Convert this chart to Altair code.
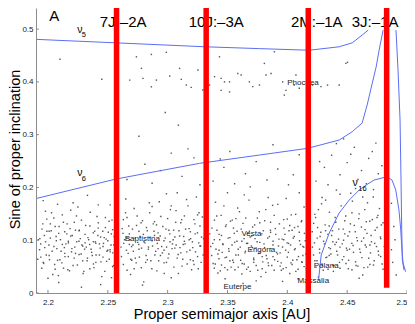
import altair as alt
import pandas as pd

FONT = "Liberation Sans"

# ---------------- axis ticks ----------------
x_ticks = [2.2, 2.25, 2.3, 2.35, 2.4, 2.45, 2.5]
y_ticks = [0.0, 0.1, 0.2, 0.3, 0.4, 0.5]

# ---------------- secular resonance curves ----------------
nu5_a = [2.1908, 2.2567, 2.3317, 2.3767, 2.4183, 2.4433, 2.4542, 2.4625, 2.4675]
nu5_s = [0.4805, 0.4740, 0.4665, 0.4630, 0.4600, 0.4665, 0.4740, 0.4886, 0.4980]

nu6_a = [2.1908, 2.2567, 2.3267, 2.3767, 2.4167, 2.4433, 2.4542, 2.4625, 2.4667, 2.4700, 2.4742, 2.4767, 2.4800]
nu6_s = [0.1794, 0.2159, 0.2457, 0.2614, 0.2740, 0.2898, 0.3055, 0.3220, 0.3561, 0.3883, 0.4280, 0.4600, 0.4980]

nu6b_a = [2.4908, 2.4925, 2.4942, 2.4950, 2.4956, 2.4961, 2.4975]
nu6b_s = [0.4980, 0.4224, 0.3277, 0.2140, 0.1193, 0.0625, 0.0436]

nu16_a = [2.4261, 2.4283, 2.4350, 2.4433, 2.4517, 2.4600, 2.4658, 2.4725, 2.4833,
          2.4875, 2.4906, 2.4933, 2.4948, 2.4956, 2.4967, 2.4989]
nu16_s = [0.0246, 0.0720, 0.1136, 0.1515, 0.1761, 0.1950, 0.2045, 0.2140, 0.2203,
          0.2140, 0.1950, 0.1570, 0.1193, 0.0877, 0.0568, 0.0403]

# ---------------- mean-motion resonances ----------------
res_a = [2.2573, 2.3322, 2.4175, 2.4830]
res_bottom = [0.0, 0.0, 0.0, 0.010]
res_labels = ["7J:\u20132A", "10J:\u20133A", "2M:\u20131A", "3J:\u20131A"]
res_label_a = [2.2628, 2.3406, 2.4246, 2.4733]
res_label_s = [0.504, 0.504, 0.504, 0.504]

# ---------------- asteroid names ----------------
ast_names = ["Baptistina", "Vesta", "Erigona", "Euterpe", "Massalia", "Polana", "Phocaea"]
ast_a = [2.2788, 2.3700, 2.3783, 2.3583, 2.4217, 2.4325, 2.4131]
ast_s = [0.1018, 0.1117, 0.0814, 0.0114, 0.0233, 0.0511, 0.3972]

# ---------------- nu labels ----------------
nu_a = [2.2267, 2.2267, 2.4567]
nu_s = [0.4980, 0.2282, 0.2083]
sub_text = ["5", "6", "16"]
sub_a = [2.2300, 2.2300, 2.4628]
sub_s = [0.4896, 0.2169, 0.1970]

# ---------------- asteroids (proper elements) ----------------
ast1_a = [2.193, 2.195, 2.196, 2.198, 2.199, 2.201, 2.202, 2.204, 2.205, 2.206, 2.208, 2.209, 2.211, 2.212, 2.213,
          2.215, 2.216, 2.217, 2.219, 2.220, 2.221, 2.223, 2.224, 2.225, 2.226, 2.228, 2.229, 2.230, 2.231, 2.233,
          2.234, 2.235, 2.236, 2.238, 2.239, 2.240, 2.241, 2.243, 2.244, 2.245, 2.246, 2.248, 2.249, 2.250, 2.251,
          2.252, 2.253, 2.254, 2.255, 2.197, 2.200, 2.203, 2.207, 2.210, 2.214, 2.218, 2.222, 2.227, 2.232, 2.237,
          2.242, 2.247, 2.252, 2.194, 2.212, 2.226, 2.238, 2.246, 2.221, 2.233, 2.209, 2.244, 2.256, 2.201, 2.217,
          2.229, 2.243, 2.250, 2.214, 2.235, 2.206, 2.223, 2.248, 2.202, 2.240, 2.231, 2.254, 2.219, 2.192, 2.228,
          2.196, 2.242, 2.208, 2.210, 2.245]
ast1_s = [0.082, 0.121, 0.058, 0.097, 0.140, 0.071, 0.104, 0.035, 0.088, 0.126, 0.062, 0.113, 0.079, 0.148, 0.047,
          0.093, 0.131, 0.069, 0.108, 0.084, 0.052, 0.119, 0.097, 0.163, 0.073, 0.138, 0.089, 0.041, 0.111, 0.066,
          0.101, 0.127, 0.083, 0.055, 0.117, 0.094, 0.145, 0.072, 0.106, 0.031, 0.088, 0.124, 0.060, 0.099, 0.136,
          0.078, 0.112, 0.050, 0.091, 0.109, 0.028, 0.152, 0.099, 0.063, 0.116, 0.042, 0.134, 0.103, 0.087, 0.071,
          0.123, 0.105, 0.167, 0.068, 0.092, 0.118, 0.097, 0.068, 0.171, 0.185, 0.020, 0.016, 0.075, 0.117, 0.098,
          0.061, 0.093, 0.081, 0.075, 0.046, 0.045, 0.075, 0.143, 0.131, 0.058, 0.095, 0.120, 0.157, 0.101, 0.011,
          0.175, 0.167, 0.168, 0.443, 0.405]

ast2_a = [2.261, 2.262, 2.263, 2.264, 2.266, 2.267, 2.268, 2.269, 2.271, 2.272, 2.273, 2.274, 2.276, 2.277, 2.278,
          2.279, 2.281, 2.282, 2.283, 2.285, 2.286, 2.287, 2.288, 2.290, 2.291, 2.292, 2.293, 2.295, 2.296, 2.297,
          2.298, 2.300, 2.301, 2.302, 2.303, 2.305, 2.306, 2.307, 2.308, 2.310, 2.311, 2.312, 2.313, 2.315, 2.316,
          2.317, 2.318, 2.320, 2.321, 2.322, 2.323, 2.325, 2.326, 2.327, 2.328, 2.330, 2.331, 2.265, 2.270, 2.275,
          2.280, 2.284, 2.289, 2.294, 2.299, 2.304, 2.309, 2.314, 2.319, 2.324, 2.329, 2.263, 2.276, 2.283, 2.292,
          2.301, 2.311, 2.319, 2.327, 2.268, 2.287, 2.306, 2.322, 2.272, 2.297, 2.314, 2.279, 2.303, 2.289, 2.266,
          2.299, 2.325, 2.308]
ast2_s = [0.087, 0.122, 0.054, 0.101, 0.143, 0.075, 0.112, 0.035, 0.091, 0.160, 0.066, 0.128, 0.083, 0.107, 0.048,
          0.137, 0.095, 0.071, 0.118, 0.152, 0.061, 0.099, 0.131, 0.079, 0.042, 0.114, 0.173, 0.088, 0.126, 0.057,
          0.104, 0.141, 0.074, 0.097, 0.029, 0.119, 0.085, 0.156, 0.066, 0.108, 0.133, 0.051, 0.092, 0.121, 0.078,
          0.165, 0.101, 0.044, 0.086, 0.139, 0.112, 0.069, 0.095, 0.127, 0.058, 0.103, 0.081, 0.178, 0.062, 0.096,
          0.021, 0.087, 0.109, 0.071, 0.188, 0.093, 0.037, 0.146, 0.116, 0.182, 0.144, 0.139, 0.117, 0.063, 0.084,
          0.119, 0.076, 0.063, 0.089, 0.092, 0.164, 0.106, 0.054, 0.046, 0.081, 0.098, 0.015, 0.165, 0.135, 0.105,
          0.058, 0.148, 0.190]

ast2h_a = [2.266, 2.281, 2.294, 2.303, 2.312, 2.322, 2.276, 2.309, 2.327, 2.287, 2.317, 2.298,
           2.2864, 2.2739, 2.2989, 2.2781, 2.3100, 2.3253, 2.2683, 2.2794, 2.2906, 2.3017, 2.3114,
           2.3156, 2.2864, 2.3197, 2.3294]
ast2h_s = [0.215, 0.244, 0.232, 0.265, 0.221, 0.256, 0.297, 0.318, 0.205, 0.208, 0.273, 0.342,
           0.452, 0.4475, 0.456, 0.4256, 0.4256, 0.4224, 0.4034, 0.4066, 0.4034, 0.411, 0.4047,
           0.394, 0.3907, 0.3896, 0.3845]

phoc_a = [2.3350, 2.3392, 2.3447, 2.3475, 2.3517, 2.3586, 2.3614, 2.3683, 2.3711, 2.3767, 2.3822, 2.3864,
          2.3961, 2.3975, 2.4072, 2.4058, 2.4100, 2.4211, 2.4281, 2.4336, 2.4433, 2.4489, 2.3808, 2.3447,
          2.3517, 2.3989, 2.4503, 2.3892, 2.3433]
phoc_s = [0.394, 0.410, 0.4066, 0.400, 0.400, 0.416, 0.413, 0.400, 0.391, 0.394, 0.413, 0.416,
          0.400, 0.375, 0.413, 0.394, 0.388, 0.394, 0.391, 0.394, 0.394, 0.435, 0.435, 0.384,
          0.381, 0.384, 0.437, 0.457, 0.4475]

ast3_a = [2.336, 2.337, 2.338, 2.339, 2.341, 2.342, 2.343, 2.344, 2.346, 2.347, 2.348, 2.349, 2.351, 2.352, 2.353,
          2.354, 2.356, 2.357, 2.358, 2.360, 2.361, 2.362, 2.363, 2.365, 2.366, 2.367, 2.368, 2.370, 2.371, 2.372,
          2.373, 2.375, 2.376, 2.377, 2.378, 2.380, 2.381, 2.382, 2.383, 2.385, 2.386, 2.387, 2.388, 2.390, 2.391,
          2.392, 2.393, 2.395, 2.396, 2.397, 2.398, 2.400, 2.401, 2.402, 2.403, 2.405, 2.406, 2.407, 2.408, 2.410,
          2.411, 2.412, 2.413, 2.415, 2.416, 2.417,
          2.339, 2.345, 2.350, 2.355, 2.359, 2.364, 2.369, 2.374, 2.379, 2.384, 2.389, 2.394, 2.399, 2.404, 2.409,
          2.414, 2.342, 2.352, 2.362, 2.372, 2.382, 2.392, 2.402, 2.412,
          2.340, 2.350, 2.359, 2.364, 2.369, 2.374, 2.379, 2.384, 2.389, 2.394, 2.399, 2.404, 2.409, 2.414, 2.345,
          2.355, 2.366, 2.377, 2.388, 2.397, 2.406, 2.343, 2.357, 2.371, 2.386, 2.400, 2.413, 2.348, 2.363, 2.396,
          2.410,
          2.338, 2.347, 2.356, 2.365, 2.374, 2.383, 2.392, 2.401, 2.410, 2.352, 2.388, 2.369, 2.344, 2.405]
ast3_s = [0.088, 0.123, 0.056, 0.101, 0.146, 0.074, 0.111, 0.042, 0.093, 0.165, 0.067, 0.129, 0.084, 0.105, 0.049,
          0.138, 0.096, 0.072, 0.117, 0.154, 0.062, 0.098, 0.132, 0.079, 0.045, 0.113, 0.176, 0.089, 0.125, 0.058,
          0.103, 0.142, 0.075, 0.096, 0.031, 0.118, 0.086, 0.158, 0.065, 0.107, 0.134, 0.052, 0.091, 0.122, 0.077,
          0.168, 0.102, 0.043, 0.087, 0.139, 0.111, 0.068, 0.094, 0.128, 0.057, 0.104, 0.082, 0.149, 0.063, 0.115,
          0.092, 0.137, 0.071, 0.099, 0.046, 0.121,
          0.047, 0.053, 0.044, 0.058, 0.049, 0.055, 0.041, 0.052, 0.046, 0.057, 0.043, 0.051, 0.048, 0.054, 0.045,
          0.050, 0.038, 0.061, 0.036, 0.063, 0.039, 0.060, 0.037, 0.059,
          0.172, 0.190, 0.083, 0.186, 0.106, 0.023, 0.069, 0.181, 0.147, 0.076, 0.179, 0.119, 0.027, 0.163, 0.109,
          0.123, 0.094, 0.133, 0.069, 0.101, 0.124, 0.081, 0.141, 0.086, 0.115, 0.140, 0.088, 0.027, 0.018, 0.022,
          0.190,
          0.212, 0.238, 0.207, 0.226, 0.249, 0.214, 0.235, 0.205, 0.262, 0.268, 0.281, 0.201, 0.254, 0.224]

ast4_a = [2.421, 2.422, 2.423, 2.425, 2.426, 2.427, 2.428, 2.430, 2.431, 2.432, 2.433, 2.435, 2.436, 2.437, 2.438,
          2.440, 2.441, 2.442, 2.443, 2.445, 2.446, 2.447, 2.448, 2.450, 2.451, 2.452, 2.453, 2.455, 2.456, 2.457,
          2.458, 2.460, 2.461, 2.462, 2.463, 2.465, 2.466, 2.467, 2.468, 2.470, 2.471, 2.472, 2.473, 2.475, 2.476,
          2.477, 2.478, 2.480, 2.481,
          2.424, 2.429, 2.434, 2.439, 2.444, 2.449, 2.454, 2.459, 2.464, 2.469,
          2.424, 2.431, 2.437, 2.444, 2.450, 2.456, 2.462, 2.468, 2.474, 2.479, 2.434, 2.447, 2.459, 2.471, 2.427,
          2.453, 2.466, 2.476, 2.441,
          2.423, 2.429, 2.435, 2.441, 2.448, 2.454, 2.460, 2.466, 2.472, 2.478, 2.426, 2.438, 2.452, 2.463, 2.475,
          2.432, 2.444, 2.457, 2.469, 2.480,
          2.487, 2.489, 2.488, 2.490, 2.491, 2.487]
ast4_s = [0.087, 0.132, 0.061, 0.104, 0.158, 0.076, 0.115, 0.043, 0.093, 0.176, 0.068, 0.127, 0.084, 0.109, 0.052,
          0.143, 0.096, 0.072, 0.121, 0.165, 0.063, 0.100, 0.137, 0.081, 0.046, 0.116, 0.189, 0.090, 0.128, 0.059,
          0.105, 0.150, 0.077, 0.098, 0.034, 0.120, 0.087, 0.171, 0.066, 0.109, 0.139, 0.053, 0.094, 0.124, 0.079,
          0.160, 0.103, 0.045, 0.088,
          0.049, 0.055, 0.045, 0.052, 0.047, 0.056, 0.044, 0.051, 0.048, 0.054,
          0.212, 0.238, 0.261, 0.224, 0.247, 0.276, 0.232, 0.255, 0.284, 0.241, 0.205, 0.292, 0.215, 0.268, 0.249,
          0.263, 0.207, 0.226, 0.283,
          0.149, 0.181, 0.071, 0.195, 0.112, 0.152, 0.028, 0.135, 0.196, 0.069, 0.030, 0.097, 0.083, 0.182, 0.143,
          0.118, 0.087, 0.198, 0.091, 0.133,
          0.082, 0.126, 0.058, 0.101, 0.034, 0.170]

ast5_a = [2.1915, 2.1932, 2.1948, 2.1957, 2.1973, 2.1986, 2.1991, 2.1939, 2.1964, 2.1979,
          2.2008, 2.2013, 2.2027, 2.2035, 2.2049, 2.2056, 2.2068, 2.2074, 2.2087, 2.2093,
          2.2104, 2.2116, 2.2129, 2.2137, 2.2142, 2.2158, 2.2166, 2.2171, 2.2185, 2.2197,
          2.2203, 2.2219, 2.2224, 2.2238, 2.2246, 2.2259, 2.2262, 2.2277, 2.2283, 2.2294,
          2.2306, 2.2315, 2.2327, 2.2334, 2.2348, 2.2353, 2.2365, 2.2379, 2.2384, 2.2396,
          2.2402, 2.2417, 2.2421, 2.2436, 2.2443, 2.2458, 2.2464, 2.2475, 2.2486, 2.2493,
          2.2504, 2.2512, 2.2527, 2.2535, 2.2541, 2.2553, 2.2548, 2.2519, 2.2531, 2.2557,
          2.2614, 2.2627, 2.2633, 2.2648, 2.2656, 2.2661, 2.2675, 2.2684, 2.2692, 2.2698,
          2.2706, 2.2713, 2.2728, 2.2737, 2.2745, 2.2759, 2.2764, 2.2778, 2.2782, 2.2797,
          2.2802, 2.2816, 2.2823, 2.2839, 2.2847, 2.2851, 2.2868, 2.2874, 2.2886, 2.2893,
          2.2907, 2.2914, 2.2925, 2.2938, 2.2943, 2.2956, 2.2969, 2.2972, 2.2985, 2.2991,
          2.3004, 2.3018, 2.3023, 2.3037, 2.3046, 2.3052, 2.3067, 2.3071, 2.3088, 2.3095,
          2.3103, 2.3117, 2.3126, 2.3134, 2.3145, 2.3158, 2.3163, 2.3179, 2.3186, 2.3192,
          2.3207, 2.3214, 2.3228, 2.3233, 2.3249, 2.3256, 2.3262, 2.3275, 2.3283, 2.3297,
          2.3352, 2.3368, 2.3377, 2.3391, 2.3398,
          2.3404, 2.3412, 2.3429, 2.3435, 2.3447, 2.3456, 2.3463, 2.3478, 2.3484, 2.3492,
          2.3506, 2.3513, 2.3525, 2.3538, 2.3544, 2.3557, 2.3562, 2.3579, 2.3585, 2.3591,
          2.3607, 2.3615, 2.3623, 2.3639, 2.3646, 2.3652, 2.3668, 2.3674, 2.3683, 2.3696,
          2.3702, 2.3719, 2.3727, 2.3731, 2.3748, 2.3753, 2.3766, 2.3772, 2.3787, 2.3795,
          2.3805, 2.3811, 2.3824, 2.3836, 2.3843, 2.3859, 2.3862, 2.3877, 2.3881, 2.3894,
          2.3903, 2.3918, 2.3926, 2.3934, 2.3949, 2.3957, 2.3965, 2.3972, 2.3986, 2.3998,
          2.4009, 2.4014, 2.4027, 2.4033, 2.4045, 2.4058, 2.4066, 2.4071, 2.4089, 2.4093,
          2.4102, 2.4117, 2.4124, 2.4138, 2.4143, 2.4156, 2.4161, 2.4169,
          2.4208, 2.4219, 2.4227, 2.4236, 2.4248, 2.4253, 2.4269, 2.4274, 2.4286, 2.4291,
          2.4303, 2.4316, 2.4322, 2.4339, 2.4347, 2.4352, 2.4364, 2.4377, 2.4385, 2.4398,
          2.4405, 2.4413, 2.4428, 2.4436, 2.4441, 2.4459, 2.4467, 2.4472, 2.4488, 2.4494,
          2.4506, 2.4512, 2.4527, 2.4539, 2.4544, 2.4553, 2.4568, 2.4575, 2.4586, 2.4597,
          2.4604, 2.4619, 2.4623, 2.4638, 2.4647, 2.4651, 2.4666, 2.4672, 2.4689, 2.4695,
          2.4703, 2.4718, 2.4726, 2.4734, 2.4745, 2.4757, 2.4763, 2.4778, 2.4786, 2.4792]
ast5_s = [0.064, 0.103, 0.047, 0.131, 0.086, 0.072, 0.117, 0.093, 0.056, 0.155,
          0.091, 0.063, 0.118, 0.079, 0.142, 0.054, 0.107, 0.084, 0.033, 0.126,
          0.101, 0.057, 0.134, 0.086, 0.069, 0.112, 0.044, 0.095, 0.122, 0.078,
          0.109, 0.066, 0.087, 0.146, 0.053, 0.098, 0.119, 0.074, 0.091, 0.037,
          0.083, 0.128, 0.061, 0.105, 0.092, 0.153, 0.077, 0.114, 0.048, 0.097,
          0.072, 0.109, 0.133, 0.085, 0.059, 0.117, 0.094, 0.041, 0.102, 0.079,
          0.115, 0.064, 0.091, 0.138, 0.076, 0.107, 0.052, 0.082, 0.029, 0.124,
          0.069, 0.113, 0.094, 0.152, 0.081, 0.043, 0.127, 0.101, 0.064, 0.088,
          0.121, 0.079, 0.104, 0.057, 0.146, 0.092, 0.068, 0.133, 0.085, 0.111,
          0.097, 0.058, 0.124, 0.083, 0.171, 0.105, 0.046, 0.089, 0.117, 0.072,
          0.129, 0.094, 0.061, 0.108, 0.145, 0.076, 0.099, 0.037, 0.121, 0.087,
          0.066, 0.112, 0.158, 0.084, 0.101, 0.049, 0.134, 0.091, 0.073, 0.118,
          0.086, 0.139, 0.064, 0.107, 0.093, 0.177, 0.055, 0.122, 0.081, 0.103,
          0.097, 0.061, 0.131, 0.078, 0.114, 0.046, 0.152, 0.089, 0.106, 0.072,
          0.112, 0.071, 0.094, 0.138, 0.055,
          0.083, 0.119, 0.065, 0.101, 0.147, 0.077, 0.092, 0.048, 0.126, 0.068,
          0.104, 0.079, 0.136, 0.091, 0.062, 0.113, 0.044, 0.098, 0.161, 0.072,
          0.087, 0.121, 0.056, 0.103, 0.076, 0.142, 0.094, 0.049, 0.117, 0.082,
          0.108, 0.066, 0.129, 0.085, 0.097, 0.043, 0.154, 0.078, 0.112, 0.059,
          0.093, 0.137, 0.071, 0.104, 0.052, 0.119, 0.084, 0.166, 0.098, 0.063,
          0.111, 0.074, 0.089, 0.131, 0.057, 0.102, 0.046, 0.123, 0.081, 0.095,
          0.077, 0.118, 0.091, 0.148, 0.062, 0.107, 0.084, 0.041, 0.126, 0.069,
          0.099, 0.135, 0.058, 0.087, 0.113, 0.074, 0.047, 0.103,
          0.116, 0.072, 0.095, 0.143, 0.061, 0.124, 0.083, 0.107, 0.169, 0.052,
          0.098, 0.129, 0.067, 0.111, 0.086, 0.153, 0.074, 0.118, 0.041, 0.092,
          0.134, 0.079, 0.102, 0.058, 0.187, 0.093, 0.121, 0.069, 0.146, 0.085,
          0.108, 0.062, 0.131, 0.094, 0.174, 0.077, 0.116, 0.052, 0.099, 0.141,
          0.083, 0.125, 0.067, 0.104, 0.158, 0.091, 0.113, 0.049, 0.136, 0.076,
          0.097, 0.182, 0.061, 0.119, 0.088, 0.147, 0.072, 0.106, 0.129, 0.055]

# ---------------- build tables ----------------
dots = pd.DataFrame({
    "a": ast1_a + ast2_a + ast2h_a + phoc_a + ast3_a + ast4_a + ast5_a,
    "s": ast1_s + ast2_s + ast2h_s + phoc_s + ast3_s + ast4_s + ast5_s,
})

rows = []
for name, xs, ys in [("nu5", nu5_a, nu5_s), ("nu6", nu6_a, nu6_s),
                     ("nu6b", nu6b_a, nu6b_s), ("nu16", nu16_a, nu16_s)]:
    for i, (xa, ys_) in enumerate(zip(xs, ys)):
        rows.append({"a": xa, "s": ys_, "curve": name, "k": i})
curves = pd.DataFrame(rows)

res = pd.DataFrame({"a": res_a, "s": [0.54] * len(res_a), "s2": res_bottom})
res_txt = pd.DataFrame({"a": res_label_a, "s": res_label_s, "t": res_labels})
ast_txt = pd.DataFrame({"a": ast_a, "s": ast_s, "t": ast_names})
nu_txt = pd.DataFrame({"a": nu_a, "s": nu_s, "t": ["\u03bd"] * 3})
sub_txt = pd.DataFrame({"a": sub_a, "s": sub_s, "t": sub_text})
panel = pd.DataFrame({"a": [2.2052], "s": [0.516], "t": ["A"]})
xt = pd.DataFrame({"a": x_ticks})
yt = pd.DataFrame({"s": y_ticks})

W, H = 371, 285
AXC = "#8c8c8c"

xscale = alt.Scale(domain=[2.19, 2.5], nice=False, zero=False)
yscale = alt.Scale(domain=[0, 0.54], nice=False, zero=False)

xaxis = alt.Axis(values=x_ticks, format="~g", title="Proper semimajor axis [AU]",
                 grid=False, ticks=False, tickSize=0, labelFontSize=8, labelFont=FONT,
                 labelColor="#1a1a1a", labelPadding=5, domainColor=AXC, domainWidth=1,
                 titleFont=FONT, titleFontSize=14.5, titleFontWeight="normal", titleColor="#000000",
                 titleBaseline="alphabetic", titleY=25.3, labelFlush=True)
yaxis = alt.Axis(values=y_ticks, format="~g", title="Sine of proper inclination",
                 grid=False, ticks=False, tickSize=0, labelFontSize=8, labelFont=FONT,
                 labelColor="#1a1a1a", labelPadding=3, domainColor=AXC, domainWidth=1,
                 titleFont=FONT, titleFontSize=14.5, titleFontWeight="normal", titleColor="#000000",
                 titleBaseline="alphabetic", titleAngle=270, titleX=-16.5, titleY=141, labelFlush=False)

X = alt.X("a:Q", scale=xscale, axis=xaxis)
Y = alt.Y("s:Q", scale=yscale, axis=yaxis)

pts = alt.Chart(dots).mark_square(size=2.0, color="#3a3a3a", opacity=0.85).encode(x=X, y=Y)

lines = alt.Chart(curves).mark_line(color="#5b6ef5", strokeWidth=1, clip=True).encode(
    x=X, y=Y, detail="curve:N", order="k:Q")

nu_lbl = alt.Chart(nu_txt).mark_text(font=FONT, fontSize=10.5, color="#000000").encode(x=X, y=Y, text="t:N")
sub_lbl = alt.Chart(sub_txt).mark_text(font=FONT, fontSize=7.5, color="#000000").encode(x=X, y=Y, text="t:N")
ast_lbl = alt.Chart(ast_txt).mark_text(font=FONT, fontSize=8, color="#222222").encode(x=X, y=Y, text="t:N")
res_lbl = alt.Chart(res_txt).mark_text(font=FONT, fontSize=15, color="#000000", baseline="alphabetic").encode(
    x=X, y=Y, text="t:N")
panel_lbl = alt.Chart(panel).mark_text(font=FONT, fontSize=15, color="#000000", baseline="alphabetic").encode(
    x=X, y=Y, text="t:N")

red = alt.Chart(res).mark_rule(color="#ff0000", strokeWidth=5.5).encode(x=X, y=Y, y2="s2:Q")

xtick = alt.Chart(xt).mark_rule(color=AXC, strokeWidth=1).encode(
    x=X, y=alt.value(H), y2=alt.value(H - 3))
ytick = alt.Chart(yt).mark_rule(color=AXC, strokeWidth=1).encode(
    y=Y, x=alt.value(0), x2=alt.value(3))

chart = alt.layer(pts, lines, nu_lbl, sub_lbl, ast_lbl, res_lbl, panel_lbl, red, xtick, ytick).properties(
    width=W, height=H,
    autosize=alt.AutoSizeParams(type="none"),
    padding={"left": 28, "top": 0, "right": 0, "bottom": 30},
    background="white",
).configure_view(strokeWidth=0)

chart.save("out.html", embed_options={"renderer": "svg", "actions": False})
